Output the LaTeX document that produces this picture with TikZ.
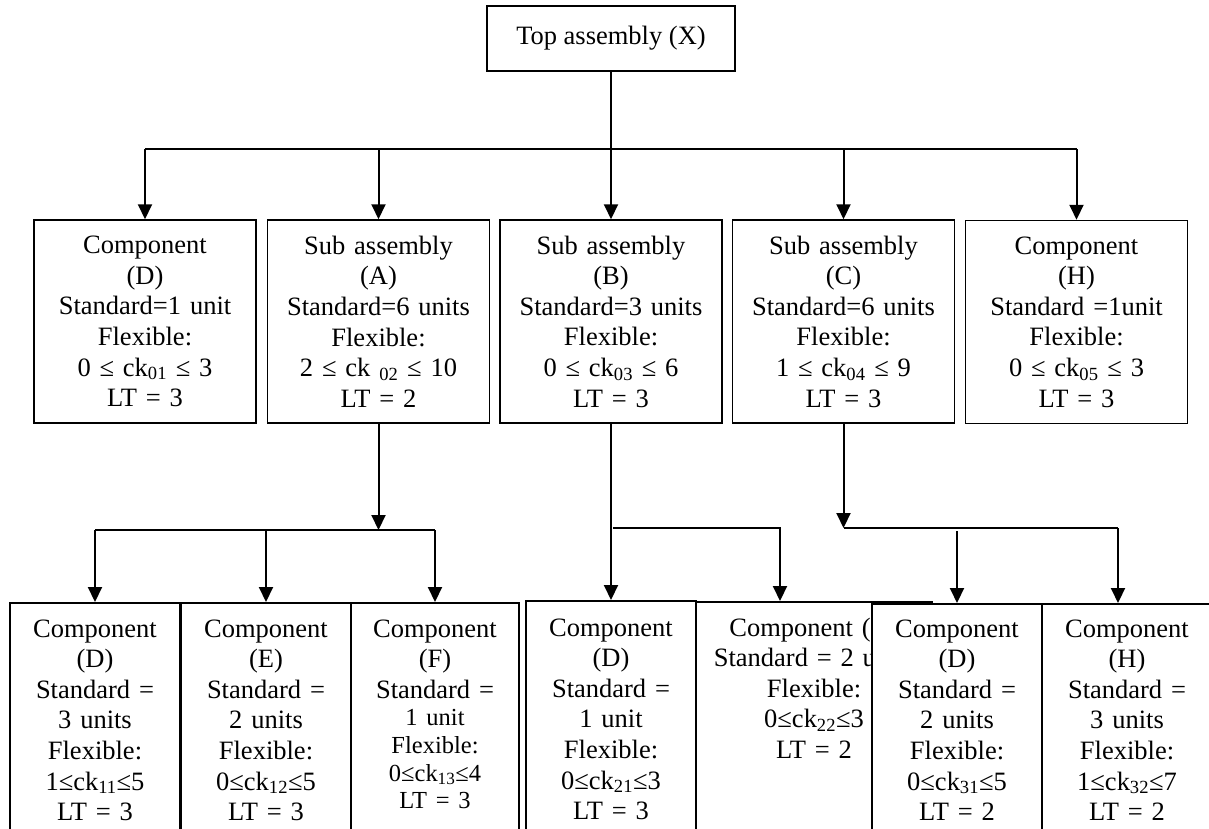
\documentclass[tikz,border=0pt]{standalone}
\usepackage{fontspec}
\setmainfont{Liberation Serif}
\usetikzlibrary{arrows.meta}
\newcommand{\sm}[1]{{\fontsize{24.5}{27}\selectfont #1}}
\begin{document}
\begin{tikzpicture}[x=1pt,y=-1pt,
  box/.style={draw, line width=1.5pt, fill=white, rectangle, inner sep=0pt},
  lvone/.style={box, minimum width=222pt, minimum height=203pt, text width=215pt, align=center},
  lvtwo/.style={box, anchor=north, minimum width=170pt, minimum height=300pt},
  txt/.style={anchor=base, align=center, inner sep=0pt, text width=165pt},
  conn/.style={line width=2pt},
  arr/.style={conn, -{Triangle[width=14pt,length=15pt]}},
  font=\fontsize{26.5}{30.6}\selectfont]
\useasboundingbox (0,0) rectangle (1209,828);
\clip (0,0) rectangle (1209,828);

% top
\node[box, minimum width=248pt, minimum height=65pt] (X) at (611,38.5) {Top assembly (X)};

% level 1
\node[lvone] (D) at (145,321.5) {Component\\(D)\\Standard=1 unit\\Flexible:\\0 ≤ ck\textsubscript{01} ≤ 3\\LT = 3};
\node[lvone] (A) at (378.5,321.5) {Sub assembly\\(A)\\Standard=6 units\\Flexible:\\2 ≤ ck \textsubscript{02} ≤ 10\\LT = 2};
\node[lvone] (B) at (611,321.5) {Sub assembly\\(B)\\Standard=3 units\\Flexible:\\0 ≤ ck\textsubscript{03} ≤ 6\\LT = 3};
\node[lvone] (C) at (843.5,321.5) {Sub assembly\\(C)\\Standard=6 units\\Flexible:\\1 ≤ ck\textsubscript{04} ≤ 9\\LT = 3};
\node[lvone] (H) at (1076.5,322) {Component\\(H)\\Standard =1unit\\Flexible:\\0 ≤ ck\textsubscript{05} ≤ 3\\LT = 3};

% level 2 boxes
\node[lvtwo] (L1) at (95,602) {};
\node[lvtwo] (L2) at (266,602) {};
\node[lvtwo, minimum width=168pt] (L3) at (435,602) {};
\node[lvtwo] (L4) at (611,600) {};
\node[lvtwo, minimum width=236pt] (L5) at (814,601) {};
\node[txt, text width=230pt] (L5t) at (814,636) {Component (G)\\Standard = 2 units\\Flexible:\\0≤ck\textsubscript{22}≤3\\LT = 2};
\node[lvtwo] (L6) at (957,603) {};
\node[lvtwo] (L7) at (1127,603) {};

\node[txt] (L1t) at (95,637) {Component\\(D)\\Standard =\\3 units\\Flexible:\\1≤ck\textsubscript{11}≤5\\LT = 3};
\node[txt] (L2t) at (266,637) {Component\\(E)\\Standard =\\2 units\\Flexible:\\0≤ck\textsubscript{12}≤5\\LT = 3};
\node[txt] (L3t) at (435,637) {Component\\(F)\\Standard =\\[-3pt]\sm{1 unit}\\[-3pt]\sm{Flexible:}\\[-3pt]\sm{0≤ck\textsubscript{13}≤4}\\[-3pt]\sm{LT = 3}};
\node[txt] (L4t) at (611,636) {Component\\(D)\\Standard =\\1 unit\\Flexible:\\0≤ck\textsubscript{21}≤3\\LT = 3};
\node[txt] (L6t) at (957,637) {Component\\(D)\\Standard =\\2 units\\Flexible:\\0≤ck\textsubscript{31}≤5\\LT = 2};
\node[txt] (L7t) at (1127,637) {Component\\(H)\\Standard =\\3 units\\Flexible:\\1≤ck\textsubscript{32}≤7\\LT = 2};

% connectors top -> level 1
\coordinate (j0) at (611,149);
\draw[conn] (D.north |- j0) -- (H.north |- j0);
\draw[arr] (X.south) -- (B.north);
\foreach \n in {D,A,C,H} \draw[arr] (\n.north |- j0) -- (\n.north);

% A -> level 2
\coordinate (jA) at (378.5,530);
\draw[arr] (A.south) -- (jA);
\draw[conn] (L1.north |- jA) -- (L3.north |- jA);
\foreach \n in {L1,L2,L3} \draw[arr] (\n.north |- jA) -- (\n.north);

% B -> level 2
\draw[arr] (B.south) -- (L4.north);
\coordinate (jB) at (613,528);
\coordinate (tB) at (780,601);
\draw[arr] (jB) -| (tB);

% C -> level 2
\coordinate (jC) at (843.5,528);
\coordinate (tC) at (1118,603);
\draw[arr] (C.south) -- (jC);
\draw[conn] (jC) -- (tC |- jC);
\draw[arr] (tC |- jC) -- (tC);
\coordinate (sC) at (957,531);
\draw[arr] (sC) -- (L6.north);
\end{tikzpicture}
\end{document}
